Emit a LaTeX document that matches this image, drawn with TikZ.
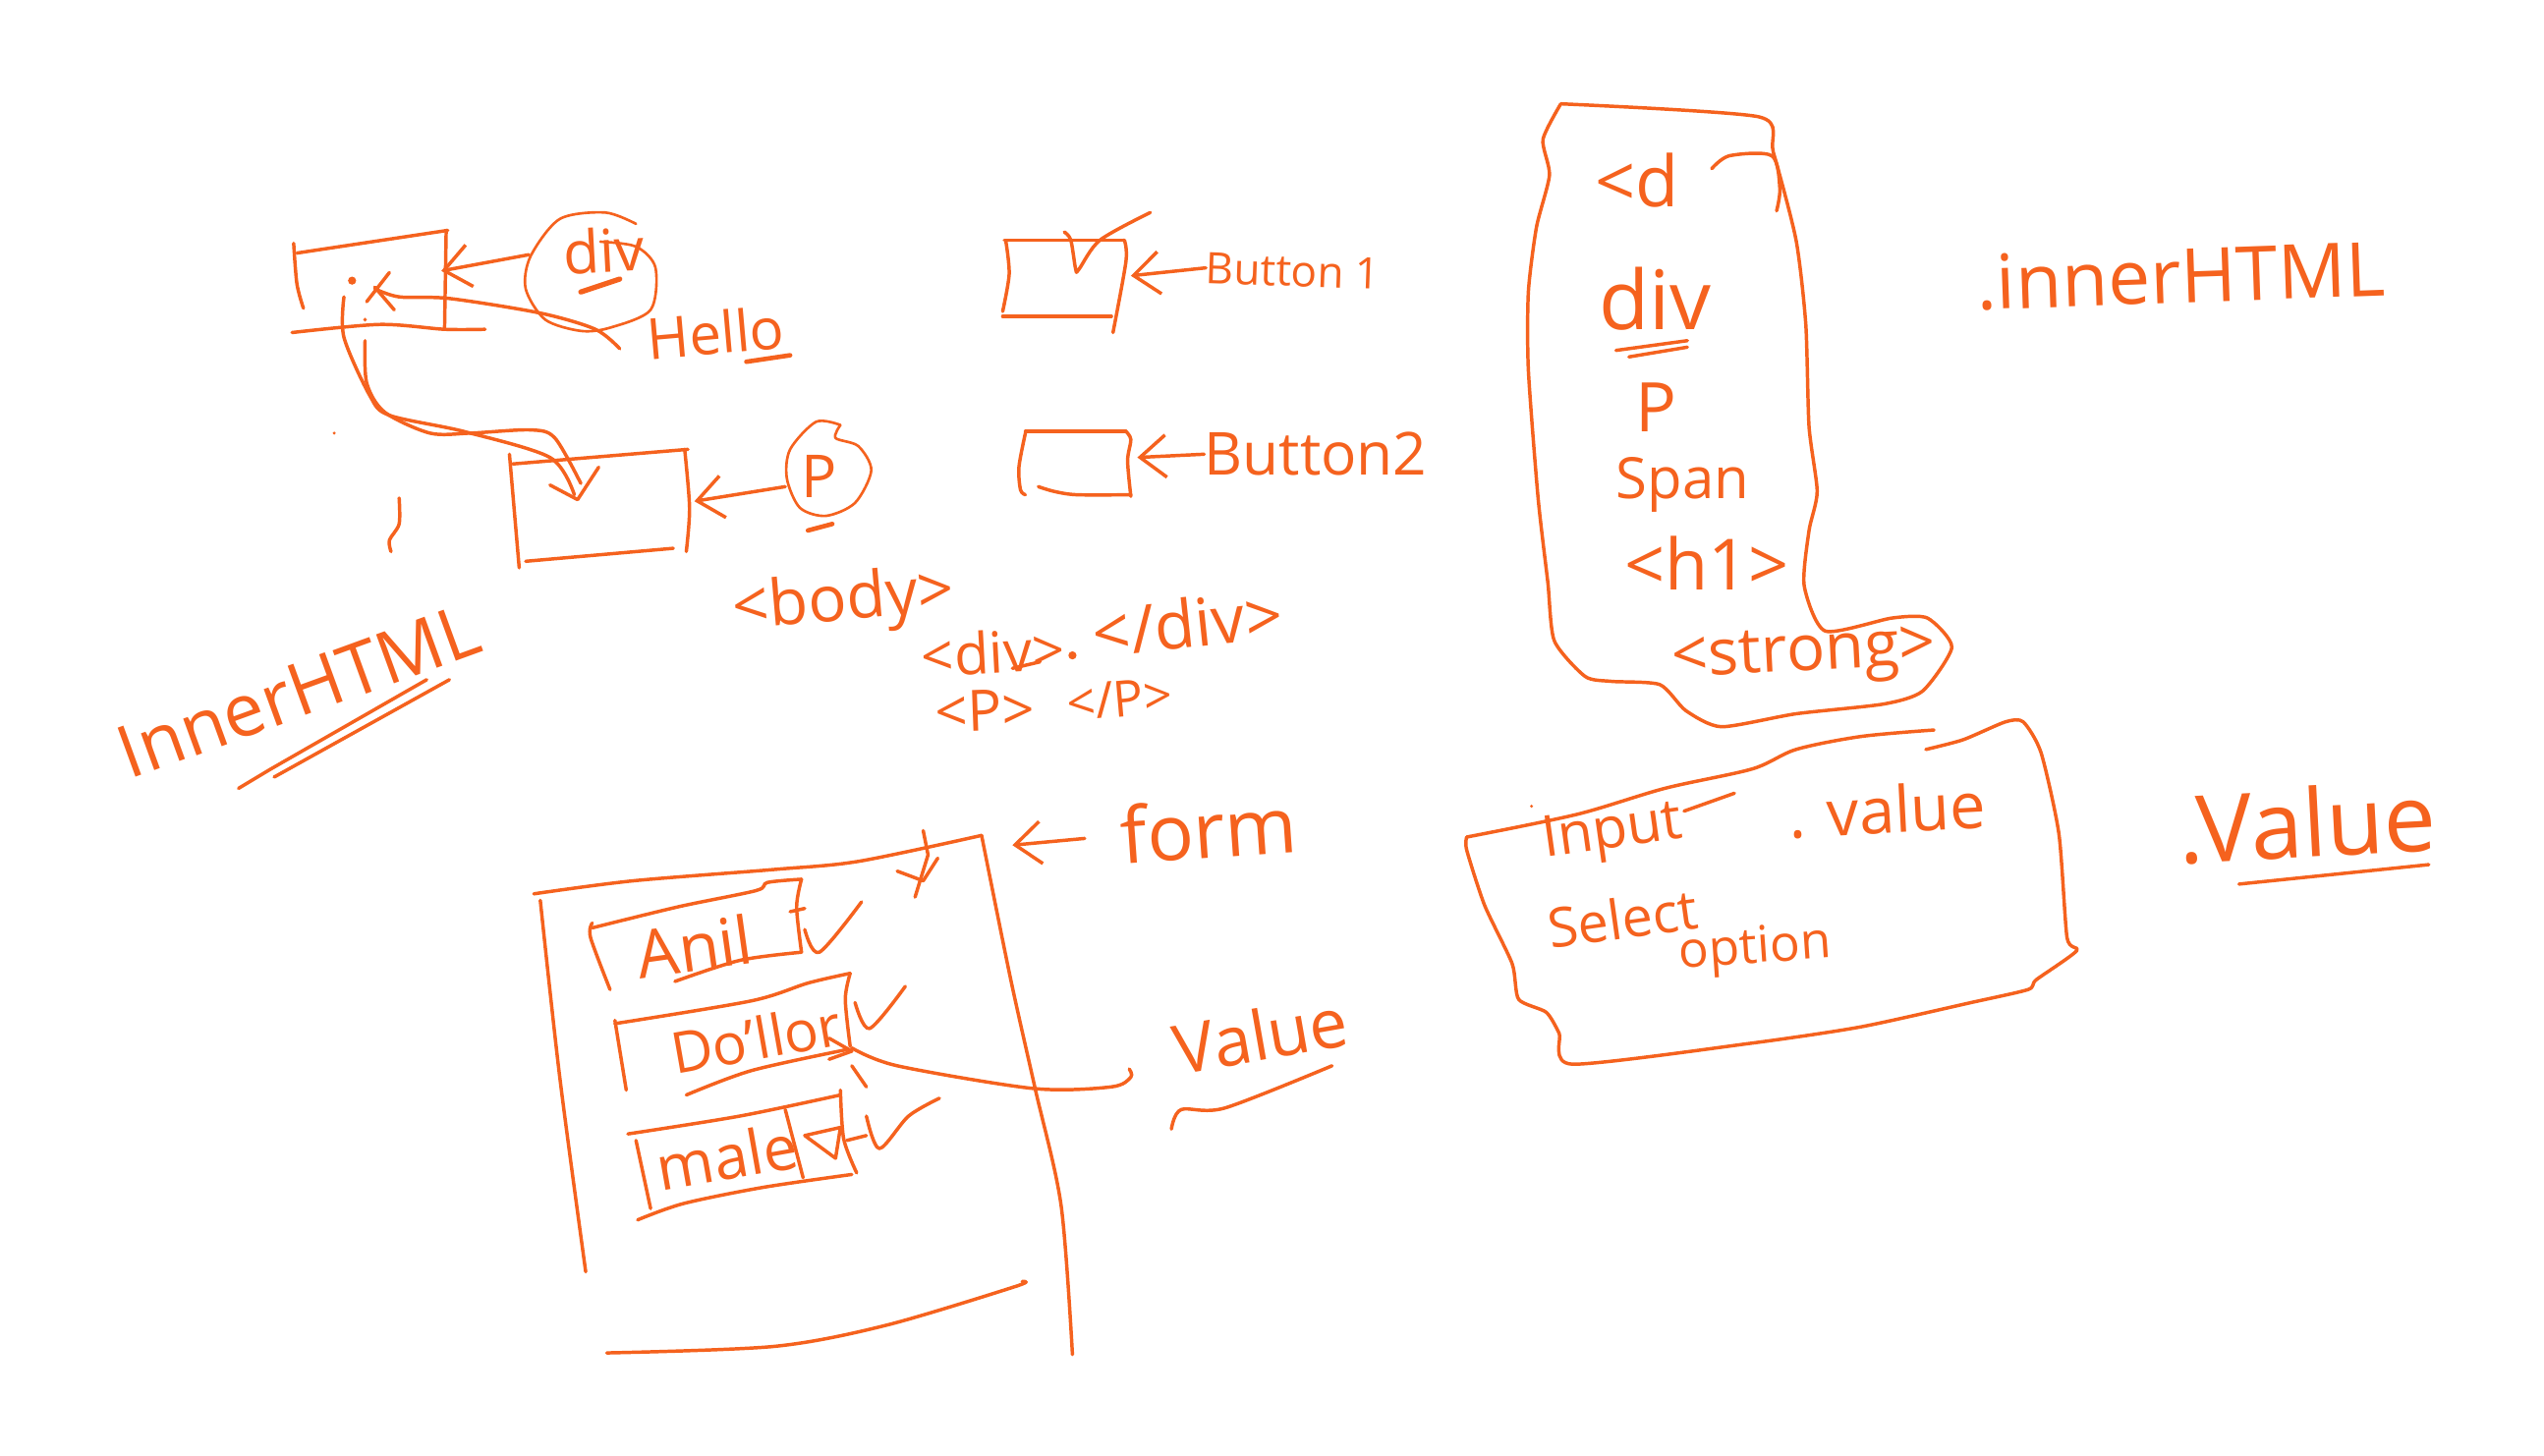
\documentclass[tikz,border=0pt]{standalone}
\usepackage{fontspec}
\setmainfont{Open Sans}
\usetikzlibrary{arrows.meta,calc}
\definecolor{ink}{HTML}{F5621E}
\tikzset{
  pen/.style={ink,line width=1.05mm,line cap=round,line join=round},
  thin pen/.style={ink,line width=0.8mm,line cap=round,line join=round},
  pointer/.style={pen,-{Straight Barb[length=8mm,width=13mm]}},
  hand/.style={text=ink,inner sep=0,font=\fontsize{#1}{#1}\selectfont},
}
\begin{document}
\begin{tikzpicture}[x=0.5mm,y=-0.5mm]
\useasboundingbox (0,0) rectangle (1568,897);
\fill[white] (0,0) rectangle (1568,897);
\draw[pen] (183,156) -- (276,142);
\draw[pen] (275,142) -- (274,203);
\draw[pen] plot[smooth] coordinates {(181,150) (183,175) (187,190)};
\draw[pen] plot[smooth] coordinates {(180,205) (234,200) (274,203) (299,203)};
\draw[thin pen] plot[smooth] coordinates {(392,138) (373,131) (345,135) (327,158) (324,178) (336,197) (358,204) (376,202) (401,191) (404,165) (392,152) (370,149)};
\node[hand=52,rotate=3] (divlabel) at (372,154) {div};
\draw[pen,line width=1.6mm] (358,180) -- (382,172);
\coordinate (divedge) at (272,167);
\draw[pointer] (326,157) -- (divedge);
\draw[pen] plot[smooth] coordinates {(240,168) (226,186)};
\draw[pen] plot[smooth] coordinates {(231,177) (243,191)};
\node[hand=50,rotate=5] (hellolabel) at (441,205) {Hello};
\draw[pen] plot[smooth] coordinates {(231,178) (246,183) (277,184) (333,193) (367,203) (382,215)};
\draw[pen,line width=1.4mm] (460,223) -- (487,219);
\fill[ink] (217,173) circle (2.5);
\fill[ink] (225,197) circle (1.2);
\fill[ink] (206,267) circle (1);
\draw[pen] plot[smooth] coordinates {(212,183) (212,208) (228,244) (240,256) (286,266) (339,282) (354,305)};
\draw[pen] plot[smooth] coordinates {(225,210) (226,236) (237,254) (265,267) (290,267) (327,265) (342,270) (358,298)};
\draw[pen] (339,299) -- (356,308) -- (369,288);
\draw[pen] (314,280) -- (320,350);
\draw[pen] (316,286) -- (424,277);
\draw[pen] plot[smooth] coordinates {(422,277) (425,313) (423,340)};
\draw[pen] (324,346) -- (415,338);
\draw[thin pen] plot[smooth] coordinates {(518,262) (503,260) (487,277) (485,295) (493,313) (509,318) (527,310) (537,290) (529,275) (515,270) (518,262)};
\node[hand=52] (plabel) at (505,294) {P};
\draw[pen,line width=1.4mm] (498,327) -- (513,323);
\coordinate (pedge) at (428,309);
\draw[pointer] (484,300) -- (pedge);
\draw[pen] plot[smooth] coordinates {(246,307) (246,323) (240,333) (241,340)};
\node[hand=64,rotate=20] (innerlabel) at (184,426) {InnerHTML};
\draw[pen] (147,486) -- (167,474) -- (263,419);
\draw[pen] (169,479) -- (277,419);
\draw[pen] (619,148) -- (693,148);
\draw[pen] plot[smooth] coordinates {(620,149) (622,169) (618,192)};
\draw[pen] (618,195) -- (685,195);
\draw[pen] plot[smooth] coordinates {(693,148) (694,161) (686,205)};
\draw[pen] plot[smooth] coordinates {(656,143) (660,148) (663,166) (665,166) (678,148) (709,131)};
\node[hand=38,rotate=-2] (btnalabel) at (797,167) {Button 1};
\coordinate (btnaedge) at (697,170);
\draw[pointer] (btnalabel.west) -- (btnaedge);
\draw[pen] (632,266) -- (694,266);
\draw[pen] plot[smooth] coordinates {(694,266) (697,271) (695,284) (697,306)};
\draw[pen] plot[smooth] coordinates {(697,305) (664,305) (650,303) (640,300)};
\draw[pen] plot[smooth] coordinates {(632,267) (628,288) (629,302) (632,305)};
\node[hand=52] (btnblabel) at (811,280) {Button2};
\coordinate (btnbedge) at (701,282);
\draw[pointer] (btnblabel.west) -- (btnbedge);
\node[hand=56,rotate=5] (bodylabel) at (520,372) {<body>};
\node[hand=50,rotate=3] (divopen) at (612,402) {<div>};
\fill[ink] (661,404) circle (2.5);
\node[hand=58,rotate=6] (divclose) at (732,384) {</div>};
\draw[pen] (624,412) -- (641,408);
\node[hand=50,rotate=2] (popen) at (607,438) {<P>};
\node[hand=44,rotate=5] (pclose) at (690,431) {</P>};
\draw[pen] plot[smooth] coordinates {(329,551) (390,543) (477,536) (529,531) (605,515)};
\draw[pen] plot[smooth] coordinates {(333,555) (345,664) (361,784)};
\draw[pen] plot[smooth] coordinates {(605,515) (623,604) (638,671) (654,743) (661,835)};
\draw[pen] plot[smooth] coordinates {(374,834) (477,830) (546,817) (626,793) (630,790)};
\draw[pen] (569,512) -- (572,527) -- (564,553);
\draw[pen] (553,537) -- (569,543) -- (578,529);
\node[hand=68,rotate=4] (formlabel) at (745,511) {form};
\coordinate (formedge) at (624,521);
\draw[pointer,shorten <=11mm] (formlabel.west) -- (formedge);
\draw[pen] plot[smooth] coordinates {(365,572) (418,559) (466,549) (473,544) (494,542)};
\draw[pen] plot[smooth] coordinates {(494,542) (491,559) (494,587)};
\draw[pen] plot[smooth] coordinates {(494,587) (456,592) (416,605)};
\draw[pen] plot[smooth] coordinates {(365,569) (364,578) (376,610)};
\node[hand=58,rotate=8] (anillabel) at (428,583) {Anil};
\draw[pen] (487,562) -- (496,560);
\draw[pen] plot[smooth] coordinates {(496,573) (505,587) (531,556)};
\draw[pen] plot[smooth] coordinates {(379,631) (463,617) (498,606) (524,600)};
\draw[pen] plot[smooth] coordinates {(524,600) (521,616) (524,645)};
\draw[pen] plot[smooth] coordinates {(522,647) (463,660) (423,675)};
\draw[pen] (379,629) -- (386,672);
\node[hand=50,rotate=10] (dollorlabel) at (466,640) {Do'llor};
\draw[pen] plot[smooth] coordinates {(527,618) (536,634) (558,608)};
\draw[pen] (511,653) -- (525,648) -- (511,640);
\draw[pen] (525,657) -- (534,670);
\node[hand=60,rotate=10] (valuelabel) at (777,638) {Value};
\draw[pen] plot[smooth] coordinates {(525,646) (553,657) (637,671) (685,670) (697,664) (696,659)};
\draw[pen] plot[smooth] coordinates {(722,696) (728,684) (755,683) (821,657)};
\draw[pen] plot[smooth] coordinates {(387,699) (456,688) (518,675)};
\draw[pen] plot[smooth] coordinates {(518,672) (520,702) (528,723)};
\draw[pen] plot[smooth] coordinates {(525,724) (470,732) (421,742) (393,752)};
\draw[pen] (392,703) -- (401,745);
\node[hand=54,rotate=10] (malelabel) at (448,713) {male};
\draw[pen] (484,684) -- (495,726);
\draw[pen] (496,700) -- (518,695) -- (515,714) -- cycle;
\draw[pen] (522,703) -- (534,700);
\draw[pen] plot[smooth] coordinates {(534,688) (542,708) (560,688) (579,677)};
\draw[pen] plot[smooth,tension=.4] coordinates {(962,64) (1084,72) (1093,94) (1107,148) (1113,200) (1115,263) (1120,303) (1115,327) (1112,361) (1125,389) (1166,381) (1188,381) (1203,399) (1185,426) (1161,434) (1107,440) (1061,448) (1039,438) (1023,422) (993,420) (977,417) (958,395) (954,359) (948,307) (942,228) (942,180) (947,140) (955,108) (951,86) (962,64)};
\node[hand=62] (dlabel) at (1009,111) {<d};
\draw[pen] plot[smooth] coordinates {(1055,104) (1066,96) (1092,96) (1097,116) (1095,130)};
\node[hand=72] (tagdiv) at (1020,184) {div};
\draw[pen] (996,216) -- (1040,210);
\draw[pen] (1004,220) -- (1040,214);
\node[hand=60] (tagp) at (1021,251) {P};
\node[hand=50] (tagspan) at (1037,299) {Span};
\node[hand=62] (taghone) at (1052,347) {<h1>};
\node[hand=56,rotate=3] (tagstrong) at (1112,405) {<strong>};
\draw[pen] plot[smooth] coordinates {(904,516) (972,502) (1026,486) (1080,474) (1107,462) (1147,454) (1192,450)};
\draw[pen] plot[smooth,tension=.4] coordinates {(1187,462) (1210,456) (1236,445) (1247,445) (1258,464) (1269,514) (1274,578) (1280,586) (1255,604) (1250,610) (1215,618) (1147,633) (1080,643) (969,656) (961,637) (953,624) (936,616) (932,594) (915,558) (904,524) (904,516)};
\fill[ink] (944,497) circle (1);
\node[hand=50,rotate=8] (inputlabel) at (994,514) {Input};
\draw[pen] (1038,500) -- (1069,489);
\node[hand=56,rotate=3] (dotvalue) at (1163,499) {. value};
\node[hand=48,rotate=8] (selectlabel) at (1000,566) {Select};
\node[hand=44,rotate=4] (optionlabel) at (1082,586) {option};
\node[hand=66,rotate=2] (innerhtml) at (1344,170) {.innerHTML};
\node[hand=82,rotate=3] (bigvalue) at (1422,507) {.Value};
\draw[pen] (1380,545) -- (1497,533);
\end{tikzpicture}
\end{document}
